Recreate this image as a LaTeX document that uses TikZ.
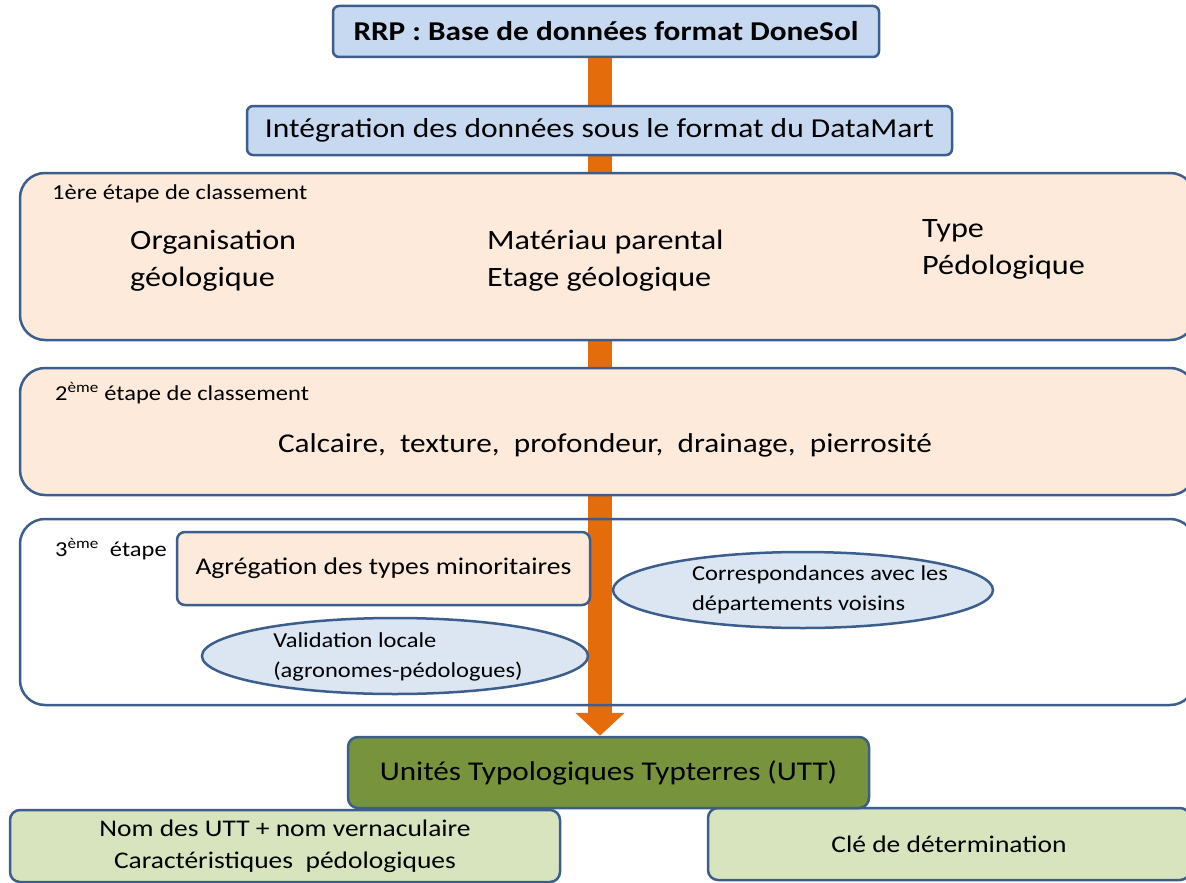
\documentclass[tikz,border=0pt]{standalone}
\usepackage{fontspec}
\setmainfont{Carlito}[FakeStretch=1.15]
\usetikzlibrary{positioning,shapes.geometric,arrows.meta}
\definecolor{edgeblue}{HTML}{3B5E8C}
\definecolor{topblue}{HTML}{C6D9F1}
\definecolor{peach}{HTML}{FDEADA}
\definecolor{ovalblue}{HTML}{DCE6F2}
\definecolor{olive}{HTML}{77933C}
\definecolor{palegreen}{HTML}{D7E4BD}
\definecolor{flow}{HTML}{E46C0A}

\begin{document}
\begin{tikzpicture}[x=1pt, y=-1pt,
  topnode/.style={rectangle, rounded corners=6pt, draw=edgeblue, fill=topblue, line width=2.5pt, inner sep=0pt},
  stagenode/.style={rectangle, rounded corners=25pt, draw=edgeblue, line width=2.5pt, minimum width=1175pt, inner sep=0pt},
  subnode/.style={rectangle, rounded corners=8pt, draw=edgeblue, fill=peach, line width=2.5pt, inner sep=0pt},
  ovnode/.style={ellipse, draw=edgeblue, fill=ovalblue, line width=2.5pt, inner sep=0pt},
  ovtext/.style={inner sep=0pt, align=left, font=\fontsize{21.3}{30}\selectfont},
  resnode/.style={rectangle, rounded corners=10pt, draw=edgeblue, fill=palegreen, line width=2.5pt, inner sep=0pt, minimum height=72pt, align=center, font=\fontsize{23.9}{32}\selectfont},
  steplabel/.style={anchor=west, inner sep=0pt, font=\fontsize{21.3}{25}\selectfont},
  itemlabel/.style={anchor=west, inner sep=0pt, align=left, font=\fontsize{28}{37}\selectfont}]
	\clip (0,0) rectangle (1186,883);
	\fill[white] (0,0) rectangle (1186,883);
	\node[topnode, minimum width=546pt, minimum height=51pt, font=\fontsize{27.2}{30}\selectfont\bfseries] (rrp) at (606,31.5) {RRP : Base de données format DoneSol};
	\node[resnode, minimum width=550pt] (noms) at (285,846) {Nom des UTT + nom vernaculaire\\Caractéristiques\ \ pédologiques};
	\node[resnode, minimum width=482pt] (cle) at (949,844) {Clé de détermination};
	\node[rectangle, rounded corners=10pt, draw=edgeblue, fill=olive, line width=2.5pt, minimum width=521pt, minimum height=71pt, font=\fontsize{27.1}{30}\selectfont] (utt) at (608.5,772.5) {Unités Typologiques Typterres (UTT)};
	\draw[flow, line width=24pt, -{Triangle[width=48pt, length=23pt]}] (rrp.south -| 600,0) -- (utt.north -| 600,0);
	\node[topnode, minimum width=705pt, minimum height=49pt, font=\fontsize{27.4}{30}\selectfont] (integ) at (599.5,130.5) {Intégration des données sous le format du DataMart};
	\node[stagenode, fill=peach, minimum height=167pt] (etape1) at (607.5,256.5) {};
	\node[stagenode, fill=peach, minimum height=127pt] (etape2) at (607.5,431.5) {};
	\node[stagenode, minimum height=186pt] (etape3) at (607.5,612) {};
	\node[steplabel] (lab1) at (52,194) {1ère étape de classement};
	\node[itemlabel] (orga) at (130,261) {Organisation\\géologique};
	\node[itemlabel] (mat) at (487,261) {Matériau parental\\Etage géologique};
	\node[itemlabel] (type) at (922,249) {Type\\Pédologique};
	\node[steplabel] (lab2) at (55,393) {2\textsuperscript{ème} étape de classement};
	\node[inner sep=0pt, font=\fontsize{27.2}{30}\selectfont] (crit) at (605,445) {Calcaire,\ \ texture,\ \ profondeur,\ \ drainage,\ \ pierrosité};
	\node[steplabel] (lab3) at (55,549) {3\textsuperscript{ème}\ \ étape};
	\node[subnode, minimum width=413pt, minimum height=73pt, font=\fontsize{24}{26}\selectfont] (agreg) at (383.5,568.5) {Agrégation des types minoritaires};
	\node[ovnode, minimum width=380pt, minimum height=76pt] (corresp) at (803,590) {};
	\node[ovtext] (corresptext) at (820,590) {Correspondances avec les\\départements voisins};
	\node[ovnode, minimum width=386pt, minimum height=76pt] (valid) at (395,656) {};
	\node[ovtext] (validtext) at (398,657) {Validation locale\\(agronomes-pédologues)};
\end{tikzpicture}
\end{document}
